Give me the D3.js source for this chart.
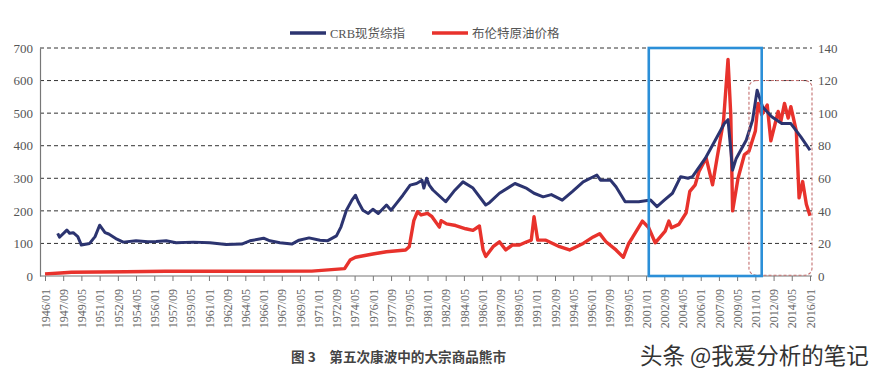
<!DOCTYPE html>
<html><head><meta charset="utf-8">
<script src="https://cdn.jsdelivr.net/npm/d3@7/dist/d3.min.js"></script>
<style>
html,body{margin:0;padding:0;background:#fff;}
svg{display:block;}
</style></head>
<body>
<svg id="chart" width="879" height="381"></svg>
<script>
const xTickLabels = ["1946/01","1947/09","1949/05","1951/01","1952/09","1954/05","1956/01","1957/09","1959/05","1961/01","1962/09","1964/05","1966/01","1967/09","1969/05","1971/01","1972/09","1974/05","1976/01","1977/09","1979/05","1981/01","1982/09","1984/05","1986/01","1987/09","1989/05","1991/01","1992/09","1994/05","1996/01","1997/09","1999/05","2001/01","2002/09","2004/05","2006/01","2007/09","2009/05","2011/01","2012/09","2014/05","2016/01"];
const leftTicks = [0,100,200,300,400,500,600,700];
const rightTicks = [0,20,40,60,80,100,120,140];

const crbDates = ["1947/03","1947/05","1948/01","1948/04","1948/08","1949/01","1949/05","1950/02","1950/08","1951/01","1951/07","1951/11","1952/08","1953/03","1954/05","1955/06","1956/03","1957/02","1958/01","1959/08","1961/02","1962/08","1964/01","1964/10","1966/01","1966/08","1967/07","1968/08","1969/04","1970/03","1971/03","1971/11","1972/09","1973/02","1973/08","1974/02","1974/06","1974/09","1975/02","1975/08","1976/01","1976/07","1977/04","1977/09","1978/03","1978/10","1979/06","1980/01","1980/07","1980/09","1980/12","1981/03","1981/07","1982/09","1983/06","1984/04","1985/03","1986/05","1986/09","1987/08","1989/01","1990/02","1990/10","1991/08","1992/05","1993/05","1994/04","1995/04","1996/07","1996/11","1997/10","1998/04","1999/02","1999/10","2000/05","2001/06","2002/01","2002/09","2003/06","2004/03","2004/11","2005/04","2006/06","2007/05","2008/03","2008/07","2008/12","2009/04","2010/03","2010/10","2011/03","2011/09","2012/07","2013/06","2014/04","2015/03","2016/01"];
const crbValues = [131,119,141,131,133,121,95,100,121,156,133,129,113,104,108,105,106,108,102,104,102,97,98,108,116,108,102,98,110,117,110,108,123,151,202,233,248,228,202,192,205,192,218,202,223,248,279,284,294,270,300,279,264,228,260,289,270,218,225,254,284,269,254,243,250,233,259,289,310,294,294,274,228,228,228,233,213,233,254,305,300,305,361,417,468,480,325,361,417,479,570,519,489,468,468,427,386];

const oilDates = ["1946/01","1947/06","1948/06","1953/06","1957/01","1970/06","1973/06","1973/12","1974/06","1976/01","1977/04","1979/01","1979/05","1979/10","1980/02","1980/06","1981/01","1981/06","1982/02","1982/04","1982/10","1983/08","1984/07","1985/03","1985/10","1986/02","1986/05","1987/01","1987/08","1988/03","1988/10","1989/06","1990/02","1990/07","1990/10","1991/02","1991/11","1993/02","1994/01","1995/04","1996/03","1996/10","1997/05","1998/04","1998/12","1999/06","1999/10","2000/09","2001/04","2001/11","2002/10","2003/02","2003/05","2004/01","2004/09","2005/01","2005/07","2005/11","2006/07","2007/02","2007/07","2008/02","2008/07","2008/10","2008/12","2009/06","2010/01","2010/06","2011/01","2011/04","2011/08","2012/02","2012/06","2013/02","2013/05","2013/09","2014/01","2014/04","2014/10","2015/01","2015/05","2015/09","2016/01"];
const oilValues = [1.3,1.8,2.3,2.6,2.9,3.0,4.5,9.8,11.5,13.5,14.9,16,18,34,39.5,37.5,38.5,36.4,30,34,32,31,29,28,30.7,16,12,18,21,16,19,19,21,22,36.4,22,22,18,16,20,24,26,21,16,11.5,20,23.5,33.7,29.6,20.4,27.6,33.7,29.6,31.7,38.8,52,56,64,72.5,56,72.5,95,133,99,40,60,74.6,76.6,89,106,99,105,83,101,95,106,97,104,89,48,58,44,37];

const seriesNames = ["CRB现货综指","布伦特原油价格"];
const captionText = "图 3　第五次康波中的大宗商品熊市";
const watermarkText = "头条 @我爱分析的笔记";

const parse = d3.timeParse("%Y/%m");
const svg = d3.select("#chart");
const serif = "'Liberation Serif','Times New Roman','Noto Sans CJK SC',serif";
const cjk = "'Noto Sans CJK SC','Noto Sans',sans-serif";

const x = d3.scaleTime().domain([parse("1946/01"), parse("2016/01")]).range([45, 810]);
const yL = d3.scaleLinear().domain([0,700]).range([276,48]);
const yR = d3.scaleLinear().domain([0,140]).range([276,48]);
const plotLeft = 40, plotRight = 812;

// grid
svg.append("g").selectAll("line").data(leftTicks.filter(d=>d>0)).join("line")
  .attr("x1", plotLeft).attr("x2", plotRight)
  .attr("y1", d=>yL(d)).attr("y2", d=>yL(d))
  .attr("stroke","#333").attr("stroke-width",1).attr("stroke-dasharray","4,3");

// left axis
const gL = svg.append("g").attr("transform",`translate(${plotLeft},0)`)
  .call(d3.axisLeft(yL).tickValues(leftTicks).tickSize(0).tickPadding(7));
gL.attr("font-family",serif);
gL.select(".domain").attr("stroke","#777").attr("stroke-width",1.2);
gL.selectAll("text").attr("font-family",serif).attr("font-size",13).attr("fill","#555");

// right axis
const gR = svg.append("g").attr("transform",`translate(${plotRight},0)`)
  .call(d3.axisRight(yR).tickValues(rightTicks).tickSize(0).tickPadding(6));
gR.attr("font-family",serif);
gR.select(".domain").remove();
gR.selectAll("text").attr("font-family",serif).attr("font-size",13).attr("fill","#555");

// bottom axis
svg.append("line").attr("x1",plotLeft).attr("x2",plotRight).attr("y1",yL(0)).attr("y2",yL(0))
  .attr("stroke","#777").attr("stroke-width",1.2);
const gX = svg.append("g").attr("transform",`translate(0,${yL(0)})`)
  .call(d3.axisBottom(x).tickValues(xTickLabels.map(parse)).tickFormat(d3.timeFormat("%Y/%m")).tickSize(5).tickPadding(6));
gX.attr("font-family",serif);
gX.select(".domain").remove();
gX.selectAll("line").attr("stroke","#777");
gX.selectAll("text").attr("font-family",serif).attr("font-size",12).attr("fill","#666")
  .attr("text-anchor","end").attr("transform","rotate(-90)").attr("dy","0.35em").attr("y",0).attr("x",-13);

// lines
const crb = crbDates.map((d,i)=>({d:parse(d), v:crbValues[i]}));
const oil = oilDates.map((d,i)=>({d:parse(d), v:oilValues[i]}));
svg.append("path").datum(oil)
  .attr("d", d3.line().x(p=>x(p.d)).y(p=>yR(p.v)))
  .attr("fill","none").attr("stroke","#e8322c").attr("stroke-width",3.4).attr("stroke-linejoin","round");
svg.append("path").datum(crb)
  .attr("d", d3.line().x(p=>x(p.d)).y(p=>yL(p.v)))
  .attr("fill","none").attr("stroke","#2c3470").attr("stroke-width",3).attr("stroke-linejoin","round");

// annotations
svg.append("rect").attr("x", x(parse("2010/06"))).attr("y", yR(120))
  .attr("width", plotRight - x(parse("2010/06"))).attr("height", yR(0.5)-yR(120))
  .attr("rx",7).attr("fill","none").attr("stroke","#c47070").attr("stroke-width",1.1).attr("stroke-dasharray","3,2");
svg.append("rect").attr("x", x(parse("2001/04"))).attr("y", yR(140))
  .attr("width", x(parse("2011/08"))-x(parse("2001/04"))).attr("height", yR(0)-yR(140))
  .attr("fill","none").attr("stroke","#2b8fd8").attr("stroke-width",2.6);

// legend
const legend = [{x:290, color:"#2c3470"},{x:432,color:"#e8322c"}];
legend.forEach((l,i)=>{
  svg.append("line").attr("x1",l.x).attr("x2",l.x+36).attr("y1",33).attr("y2",33)
    .attr("stroke",l.color).attr("stroke-width",3.5);
  svg.append("text").attr("x",l.x+40).attr("y",37.5).text(seriesNames[i])
    .attr("font-family",serif).attr("font-size",12.5).attr("fill","#555");
});

// caption and watermark
svg.append("text").attr("x",291).attr("y",362).text(captionText)
  .attr("font-family",cjk).attr("font-size",13.6).attr("font-weight","bold").attr("fill","#444");
svg.append("text").attr("x",640).attr("y",364).text(watermarkText)
  .attr("font-family",cjk).attr("font-size",22.5).attr("fill","#333");
</script>
</body></html>
